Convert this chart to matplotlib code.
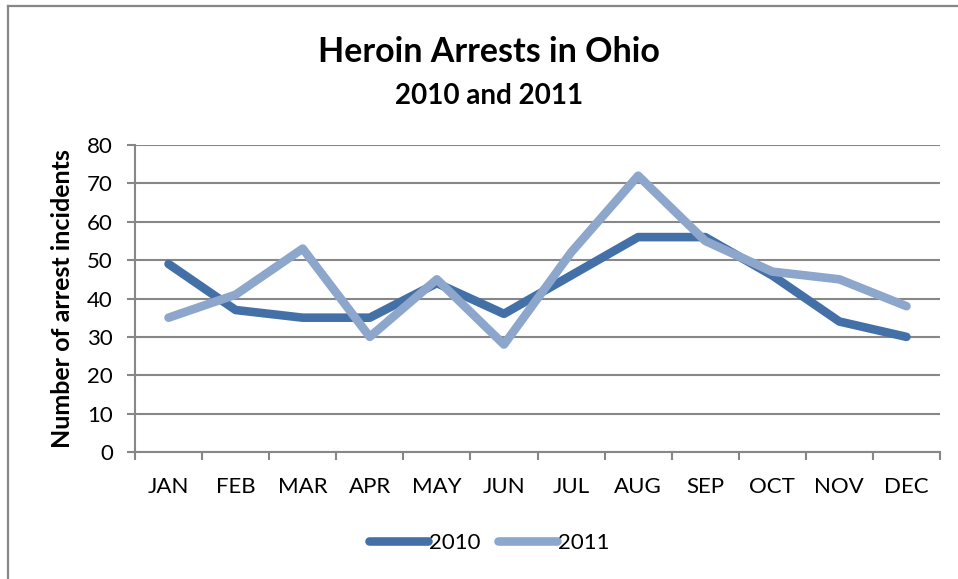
import matplotlib.pyplot as plt
from matplotlib.lines import Line2D
import numpy as np

months = ['JAN', 'FEB', 'MAR', 'APR', 'MAY', 'JUN', 'JUL', 'AUG', 'SEP', 'OCT', 'NOV', 'DEC']
arrests_2010 = [49, 37, 35, 35, 44, 36, 46, 56, 56, 46, 34, 30]
arrests_2011 = [35, 41, 53, 30, 45, 28, 52, 72, 55, 47, 45, 38]

dark = '#4470a8'
light = '#8da6cc'
grey = '#878787'

plt.rcParams['font.family'] = ['Lato', 'DejaVu Sans']

W, H = 958, 579
fig = plt.figure(figsize=(W / 100, H / 100), dpi=100)

# chart frame (only left and top edges visible)
fig.add_artist(Line2D([8 / W, 8 / W], [0, 1 - 6 / H], color=grey, lw=1.6, transform=fig.transFigure))
fig.add_artist(Line2D([8 / W, 1], [1 - 6 / H, 1 - 6 / H], color=grey, lw=1.6, transform=fig.transFigure))

ax = fig.add_axes([135 / W, 1 - 452 / H, 805 / W, 307 / H])
x = np.arange(len(months))
ax.plot(x, arrests_2010, color=dark, lw=6.2, solid_capstyle='round', solid_joinstyle='round', label='2010', zorder=3)
ax.plot(x, arrests_2011, color=light, lw=6.2, solid_capstyle='round', solid_joinstyle='round', label='2011', zorder=4)

ax.set_xlim(-0.5, 11.5)
ax.set_ylim(0, 80)
ax.set_yticks(range(0, 81, 10))
ax.set_xticks(x)
ax.set_xticklabels(months)
ax.set_xticks(np.arange(-0.5, 12, 1), minor=True)
ax.tick_params(axis='x', which='major', length=0, pad=18, labelsize=16)
ax.tick_params(axis='x', which='minor', length=6, width=1.5, color=grey, direction='out')
ax.tick_params(axis='y', length=6, width=1.5, color=grey, direction='out', pad=10, labelsize=16)
ax.yaxis.grid(True, color=grey, lw=1.5)
ax.set_axisbelow(True)
for side in ['top', 'right']:
    ax.spines[side].set_visible(False)
for side in ['left', 'bottom']:
    ax.spines[side].set_color(grey)
    ax.spines[side].set_linewidth(1.5)

ax.set_ylabel('Number of arrest incidents', fontsize=18, fontweight='bold', labelpad=9)

fig.text(489 / W, 1 - 52 / H, 'Heroin Arrests in Ohio', ha='center', va='center', fontsize=24.5, fontweight='bold')
fig.text(489 / W, 1 - 96 / H, '2010 and 2011', ha='center', va='center', fontsize=20, fontweight='bold')

fig.legend(loc='center', bbox_to_anchor=(489 / W, 1 - 543 / H), ncol=2, frameon=False,
           fontsize=16, handlelength=2.65, handletextpad=0.05, columnspacing=0.8)

fig.savefig('out.png', dpi=100)
